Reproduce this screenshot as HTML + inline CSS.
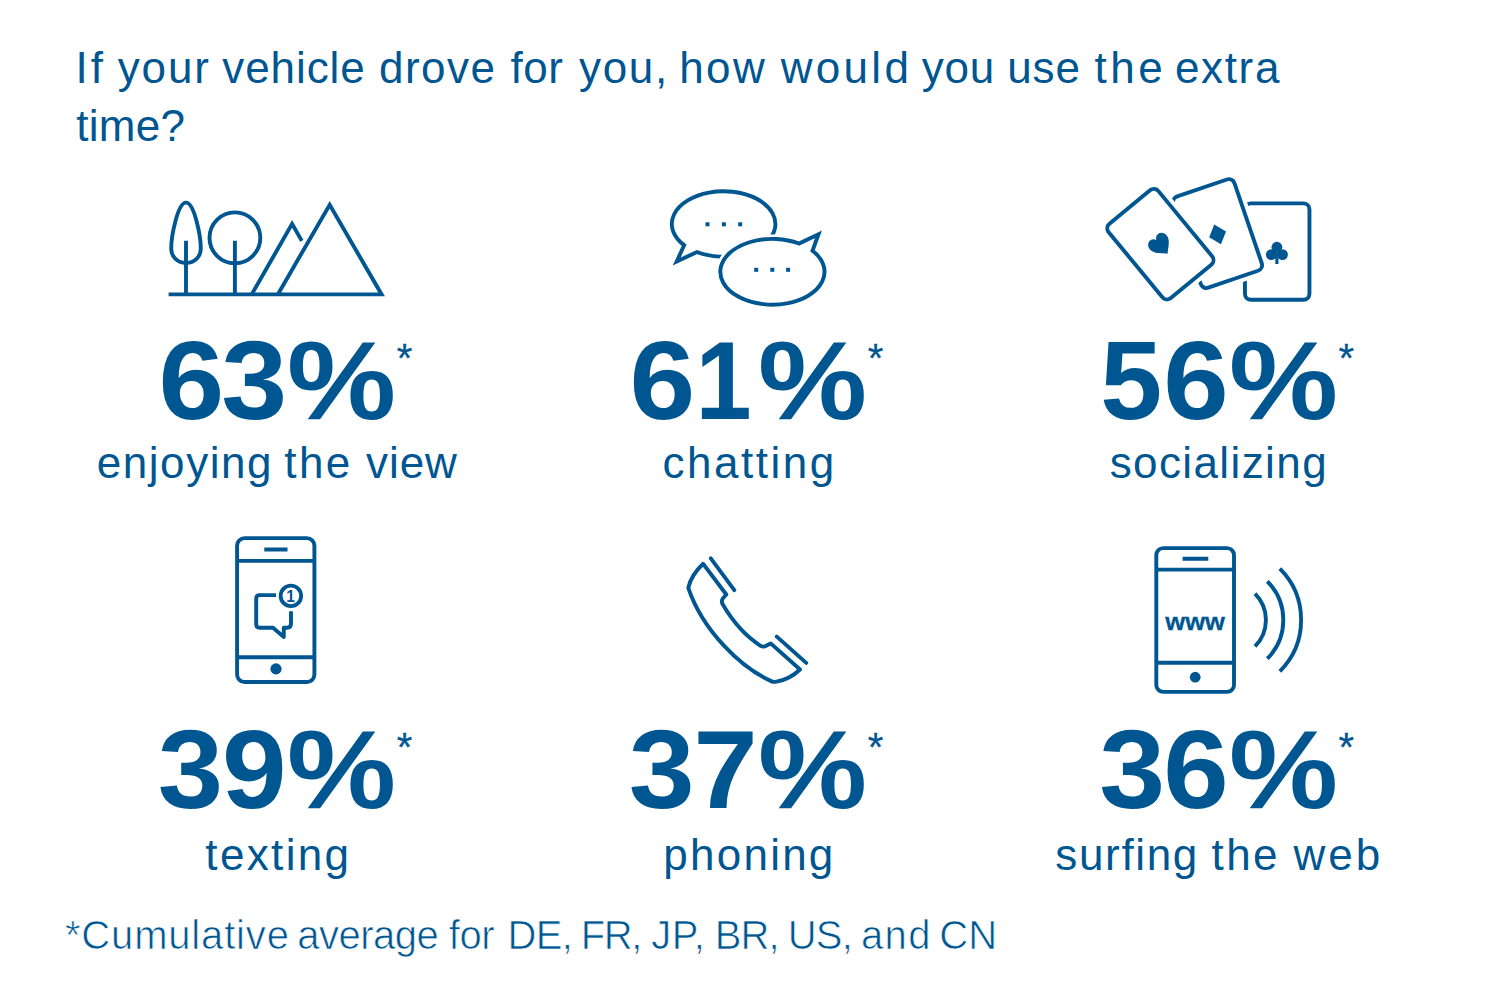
<!DOCTYPE html>
<html><head><meta charset="utf-8"><title>If your vehicle drove for you</title>
<style>
html,body{margin:0;padding:0;background:#fff;}
body{width:1500px;height:1000px;overflow:hidden;}
svg{display:block;font-family:'Liberation Sans', sans-serif;}
text{fill:#005691;white-space:pre;}
.lt{stroke:#fff;stroke-width:0.7px;paint-order:fill stroke;}
</style></head><body>
<svg width="1500" height="1000" viewBox="0 0 1500 1000">
<rect width="1500" height="1000" fill="#fff"/>
<g fill="none" stroke="#005691" stroke-width="3.9" stroke-linejoin="miter" stroke-miterlimit="10">
<path d="M168.6,294.4 H381.6 L329.7,204.8 L277.8,294.4"/>
<path d="M251.7,294.4 L292.1,223.9 L301.8,240.9"/>
<circle cx="234.9" cy="237.8" r="25.4"/>
<path d="M234.9,240.7 V294.4 M186,240.7 V294.4"/>
<path d="M186,202.6 C177.5,202.6 171.2,237 171.2,248.5 C171.2,257 177.6,263 186,263 C194.4,263 200.8,257 200.8,248.5 C200.8,237 194.5,202.6 186,202.6 Z"/>
</g>
<g fill="none" stroke="#005691" stroke-width="3.9" stroke-linejoin="miter" stroke-miterlimit="10">
<path d="M684.15,245.19 A51.8,32.7 0 1 1 696.92,252.03 L676.7,261.5 Z"/>
<path d="M812.49,250.78 A52.1,32.9 0 1 1 799,243.51 L818.5,234.2 Z" fill="#fff" stroke="#fff" stroke-width="9"/>
<path d="M812.49,250.78 A52.1,32.9 0 1 1 799,243.51 L818.5,234.2 Z"/>
</g>
<g fill="#005691">
<rect x="705.5" y="222.3" width="4" height="4"/><rect x="721.9" y="222.3" width="4" height="4"/><rect x="738.2" y="222.3" width="4" height="4"/>
<rect x="754.2" y="267.8" width="4" height="4"/><rect x="770.3" y="267.8" width="4" height="4"/><rect x="786.1" y="267.8" width="4" height="4"/>
</g>
<g transform="translate(1277.2,251.6) rotate(0)"><rect x="-32.25" y="-48.2" width="64.5" height="96.4" rx="6" fill="none" stroke="#005691" stroke-width="3.9"/><g transform="translate(-0.3,0.8)"><g fill="#005691"><circle cx="0" cy="-5.2" r="5.4"/><circle cx="-5.6" cy="2.2" r="5.4"/><circle cx="5.6" cy="2.2" r="5.4"/><rect x="-1.6" y="0" width="3.2" height="11.6"/></g></g></g>
<g transform="translate(1217.6,233.6) rotate(-18.8)"><rect x="-32.25" y="-48.2" width="64.5" height="96.4" rx="6" fill="#fff" stroke="#fff" stroke-width="11.5"/><rect x="-32.25" y="-48.2" width="64.5" height="96.4" rx="6" fill="#fff" stroke="#005691" stroke-width="3.9"/><g transform="translate(-0.26,0.76)"><path d="M0,-10.4 L8.9,0 L0,10.4 L-8.9,0 Z" fill="#005691"/></g></g>
<g transform="translate(1160.4,244.2) rotate(-39.5)"><rect x="-32.25" y="-48.2" width="64.5" height="96.4" rx="6" fill="#fff" stroke="#fff" stroke-width="11.5"/><rect x="-32.25" y="-48.2" width="64.5" height="96.4" rx="6" fill="#fff" stroke="#005691" stroke-width="3.9"/><g transform="translate(-0.44,1.0) scale(1.04)"><path d="M0,10.5 C-3,7 -10.5,2.5 -10.5,-3.5 C-10.5,-7.5 -7.8,-10 -5,-10 C-2.6,-10 -0.8,-8.6 0,-6.6 C0.8,-8.6 2.6,-10 5,-10 C7.8,-10 10.5,-7.5 10.5,-3.5 C10.5,2.5 3,7 0,10.5 Z" fill="#005691"/></g></g>
<g fill="none" stroke="#005691" stroke-width="3.9">
<rect x="237.1" y="538.1" width="77.3" height="143.9" rx="7.5"/>
<path d="M236.9,560.9 H314.6 M236.9,657.3 H314.6 M264.3,549.5 H287.5"/>
<path d="M276,595.1 H259.7 Q256.2,595.1 256.2,598.6 V624.3 Q256.2,627.8 259.7,627.8 H273 L283.8,637 V627.8 H287 Q291,627.8 291,623.8 V611.2" stroke-linejoin="round"/>
<circle cx="290.9" cy="595.9" r="10.25" stroke-width="3.8"/>
</g>
<circle cx="276" cy="668.9" r="5.6" fill="#005691"/>
<text x="290.6" y="601.6" font-size="15.6" font-weight="700" text-anchor="middle">1</text>
<g fill="none" stroke="#005691" stroke-width="3.9" stroke-linecap="round" stroke-linejoin="round">
<path d="M703.2,563.8 L726.3,594.5 L723.2,598 Q720.8,601 722.8,604.6 C733,622 746,636.5 760.5,645.8 Q763.5,647.5 766.5,645.6 L770.7,643.4 L800,669.5 C793.5,675.8 784,680.3 776.5,681.7 Q773.6,682.3 770.8,680.9 C741,667.5 702.5,630.5 688.3,587.8 C690.5,578 696,570.5 703.2,563.8 Z"/>
<path d="M710.8,558.3 L734.3,590.1 M776.8,636.6 L806.2,662.9"/>
</g>
<g fill="none" stroke="#005691" stroke-width="3.9">
<rect x="1156.3" y="548.1" width="77.7" height="143.8" rx="7"/>
<path d="M1156.5,569.6 H1234.1 M1156.5,662.8 H1234.1 M1182.6,558.8 H1208.3"/>
<path d="M1254.98,593.62 A37.3,37.3 0 0 1 1254.98,646.38 M1267.28,581.32 A54.7,54.7 0 0 1 1267.28,658.68 M1279.87,568.73 A72.5,72.5 0 0 1 1279.87,671.27"/>
</g>
<circle cx="1195.2" cy="677.2" r="5.4" fill="#005691"/>
<text x="75.5" y="83.3" font-size="44" letter-spacing="3">If</text>
<text x="117.75" y="83.3" font-size="44" letter-spacing="1.87">your</text>
<text x="222.25" y="83.3" font-size="44" letter-spacing="0.93">vehicle</text>
<text x="378.95" y="83.3" font-size="44" letter-spacing="1.5">drove</text>
<text x="510.55" y="83.3" font-size="44" letter-spacing="0.47">for</text>
<text x="579.05" y="83.3" font-size="44" letter-spacing="1.67">you,</text>
<text x="679.3" y="83.3" font-size="44" letter-spacing="2.33">how</text>
<text x="780.7" y="83.3" font-size="44" letter-spacing="3.32">would</text>
<text x="921.75" y="83.3" font-size="44" letter-spacing="0.77">you</text>
<text x="1007.25" y="83.3" font-size="44" letter-spacing="0.88">use</text>
<text x="1094.55" y="83.3" font-size="44" letter-spacing="3.45">the</text>
<text x="1174.95" y="83.3" font-size="44" letter-spacing="1.65">extra</text>
<text x="76.15" y="140.5" font-size="44" letter-spacing="0.34">time?</text>
<text x="96.75" y="478.3" font-size="44" letter-spacing="1.55">enjoying</text>
<text x="284.35" y="478.3" font-size="44" letter-spacing="2.4">the</text>
<text x="365.95" y="478.3" font-size="44" letter-spacing="0.98">view</text>
<text x="662.6" y="478.3" font-size="44" letter-spacing="2.49">chatting</text>
<text x="1109.65" y="478.3" font-size="44" letter-spacing="1.4">socializing</text>
<text x="205.35" y="869.5" font-size="44" letter-spacing="2.35">texting</text>
<text x="663.35" y="869.5" font-size="44" letter-spacing="2.23">phoning</text>
<text x="1055.25" y="869.5" font-size="44" letter-spacing="1.67">surfing</text>
<text x="1211.55" y="869.5" font-size="44" letter-spacing="2.4">the</text>
<text x="1293.4" y="869.5" font-size="44" letter-spacing="3.02">web</text>
<text x="64.95" y="949.2" font-size="40" letter-spacing="0.83" class="lt">*Cumulative</text>
<text x="297.25" y="949.2" font-size="40" letter-spacing="-0.52" class="lt">average</text>
<text x="448.8" y="949.2" font-size="40" letter-spacing="-0.45" class="lt">for</text>
<text x="507.45" y="949.2" font-size="40" letter-spacing="-0.58" class="lt">DE,</text>
<text x="580.75" y="949.2" font-size="40" letter-spacing="-1.4" class="lt">FR,</text>
<text x="651.25" y="949.2" font-size="40" letter-spacing="0.52" class="lt">JP,</text>
<text x="714.85" y="949.2" font-size="40" letter-spacing="-0.93" class="lt">BR,</text>
<text x="787.7" y="949.2" font-size="40" letter-spacing="-0.7" class="lt">US,</text>
<text x="860.95" y="949.2" font-size="40" letter-spacing="1.4" class="lt">and</text>
<text x="939.3" y="949.2" font-size="40" letter-spacing="0.1" class="lt">CN</text>
<text transform="translate(158.52,419.1) scale(1.0692,1)" font-size="110.5" font-weight="700">6</text>
<text transform="translate(221.32,419.1) scale(1.0727,1)" font-size="110.5" font-weight="700">3</text>
<text transform="translate(629.52,419.1) scale(1.0692,1)" font-size="110.5" font-weight="700">6</text>
<text transform="translate(695.61,419.1) scale(0.9126,1)" font-size="110.5" font-weight="700">1</text>
<text transform="translate(1100.27,419.1) scale(1.0082,1)" font-size="110.5" font-weight="700">5</text>
<text transform="translate(1163.24,419.1) scale(1.0654,1)" font-size="110.5" font-weight="700">6</text>
<text transform="translate(157.84,808.4) scale(1.0636,1)" font-size="110.5" font-weight="700">3</text>
<text transform="translate(222.06,808.4) scale(1.0505,1)" font-size="110.5" font-weight="700">9</text>
<text transform="translate(628.82,808.4) scale(1.0727,1)" font-size="110.5" font-weight="700">3</text>
<text transform="translate(693.54,808.4) scale(1.0435,1)" font-size="110.5" font-weight="700">7</text>
<text transform="translate(1099.32,808.4) scale(1.0727,1)" font-size="110.5" font-weight="700">3</text>
<text transform="translate(1163.24,808.4) scale(1.0654,1)" font-size="110.5" font-weight="700">6</text>
<text transform="translate(396.75,372.3) scale(1.0000)" font-size="40" stroke="#005691" stroke-width="0.3">*</text>
<text transform="translate(867.75,372.3) scale(1.0000)" font-size="40" stroke="#005691" stroke-width="0.3">*</text>
<text transform="translate(1338.45,372.3) scale(1.0000)" font-size="40" stroke="#005691" stroke-width="0.3">*</text>
<text transform="translate(396.75,761.3) scale(1.0000)" font-size="40" stroke="#005691" stroke-width="0.3">*</text>
<text transform="translate(867.75,761.3) scale(1.0000)" font-size="40" stroke="#005691" stroke-width="0.3">*</text>
<text transform="translate(1338.45,761.3) scale(1.0000)" font-size="40" stroke="#005691" stroke-width="0.3">*</text>
<text transform="translate(1165.3,629.8) scale(1.0643,1)" font-size="24" font-weight="700" stroke="#005691" stroke-width="0.3">www</text>
<text transform="translate(287.1,419.1) scale(1.11,1)" font-size="110.5" font-weight="700">%</text>
<text transform="translate(758.1,419.1) scale(1.11,1)" font-size="110.5" font-weight="700">%</text>
<text transform="translate(1228.9,419.1) scale(1.11,1)" font-size="110.5" font-weight="700">%</text>
<text transform="translate(287.1,808.4) scale(1.11,1)" font-size="110.5" font-weight="700">%</text>
<text transform="translate(758.1,808.4) scale(1.11,1)" font-size="110.5" font-weight="700">%</text>
<text transform="translate(1228.9,808.4) scale(1.11,1)" font-size="110.5" font-weight="700">%</text>
</svg>
</body></html>
